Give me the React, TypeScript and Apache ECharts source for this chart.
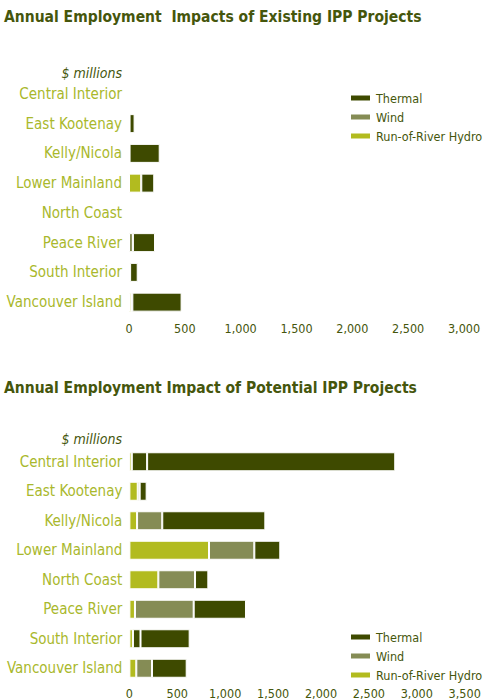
import React, { useEffect, useRef } from "react";
import * as echarts from "echarts";

const categories = [
  "Central Interior",
  "East Kootenay",
  "Kelly/Nicola",
  "Lower Mainland",
  "North Coast",
  "Peace River",
  "South Interior",
  "Vancouver Island",
];

// Existing IPP projects ($ millions)
const existingHydro = [3, 5, 5, 110, 0, 0, 10, 20];
const existingWind = [0, 0, 0, 0, 0, 35, 0, 10];
const existingThermal = [0, 45, 270, 116, 0, 198, 68, 441];

// Potential IPP projects ($ millions)
const potentialHydro = [25, 87, 80, 831, 302, 58, 37, 72];
const potentialWind = [160, 20, 263, 473, 383, 613, 79, 164];
const potentialThermal = [2590, 73, 1076, 271, 139, 546, 513, 362];
// rows whose middle segment is drawn in the thermal colour in the original
const potentialWindDark = [true, false, false, false, false, false, true, false];

const topTicks = { min: 0, max: 3000, interval: 500 };
const bottomTicks = { min: 0, max: 3500, interval: 500 };

const C_THERMAL = "#3e4a00";
const C_WIND = "#858c55";
const C_HYDRO = "#b2bb1f";
const C_LABEL = "#a9b82c";
const C_DARK = "#45560c";
const FONT = "'DejaVu Sans Condensed', 'Liberation Sans Narrow', sans-serif";

export default function App() {
  const ref = useRef<HTMLDivElement>(null);
  useEffect(() => {
    if (!ref.current) return;
    const chart = echarts.init(ref.current, null, { renderer: "svg" });
    const xAxisBase = (t: any, gridIndex: number, margin: number) => ({
      type: "value",
      gridIndex,
      min: t.min,
      max: t.max,
      interval: t.interval,
      axisLine: { show: false },
      axisTick: { show: false },
      splitLine: { show: false },
      axisLabel: {
        color: C_DARK,
        fontFamily: FONT,
        fontSize: 12.5,
        margin,
        formatter: (v: number) => v.toLocaleString("en-US"),
      },
    });
    const yAxisBase = (gridIndex: number) => ({
      type: "category",
      gridIndex,
      data: categories,
      inverse: true,
      axisLine: { show: false },
      axisTick: { show: false },
      splitLine: { show: false },
      axisLabel: {
        color: C_LABEL,
        fontFamily: FONT,
        fontSize: 15,
        margin: 7,
      },
    });
    const barBase = {
      type: "bar",
      barWidth: 19,
      itemStyle: { borderColor: "#ffffff", borderWidth: 1 },
    };
    const legendBase = {
      orient: "vertical",
      left: 344,
      itemWidth: 21,
      itemHeight: 7,
      itemGap: 3,
      icon: "rect",
      data: ["Thermal", "Wind", "Run-of-River Hydro"],
      textStyle: { color: C_DARK, fontFamily: FONT, fontSize: 12.5, lineHeight: 16 },
    };
    const option: any = {
      animation: false,
      grid: [
        { left: 129, width: 335, top: 79, height: 238, containLabel: false, outerBoundsMode: "none" },
        { left: 129.4, width: 335.3, top: 447, height: 236, containLabel: false, outerBoundsMode: "none" },
      ],
      xAxis: [xAxisBase(topTicks, 0, 5), xAxisBase(bottomTicks, 1, 4)],
      yAxis: [yAxisBase(0), yAxisBase(1)],
      legend: [
        { ...legendBase, top: 85 },
        { ...legendBase, top: 624 },
      ],
      series: [
        { ...barBase, name: "Run-of-River Hydro", stack: "a", xAxisIndex: 0, yAxisIndex: 0, color: C_HYDRO, data: existingHydro },
        { ...barBase, name: "Wind", stack: "a", xAxisIndex: 0, yAxisIndex: 0, color: C_WIND, data: existingWind },
        { ...barBase, name: "Thermal", stack: "a", xAxisIndex: 0, yAxisIndex: 0, color: C_THERMAL, data: existingThermal },
        { ...barBase, name: "Run-of-River Hydro", stack: "b", xAxisIndex: 1, yAxisIndex: 1, color: C_HYDRO, data: potentialHydro },
        {
          ...barBase,
          name: "Wind",
          stack: "b",
          xAxisIndex: 1,
          yAxisIndex: 1,
          color: C_WIND,
          data: potentialWind.map((v, i) =>
            potentialWindDark[i] ? { value: v, itemStyle: { color: C_THERMAL } } : v
          ),
        },
        { ...barBase, name: "Thermal", stack: "b", xAxisIndex: 1, yAxisIndex: 1, color: C_THERMAL, data: potentialThermal },
      ],
      graphic: [
        {
          type: "text",
          left: 4,
          top: 9,
          style: {
            text: "Annual Employment  Impacts of Existing IPP Projects",
            fill: C_DARK,
            font: `bold 15.5px ${FONT}`,
          },
        },
        {
          type: "text",
          left: 4,
          top: 380,
          style: {
            text: "Annual Employment Impact of Potential IPP Projects",
            fill: C_DARK,
            font: `bold 15.5px ${FONT}`,
          },
        },
        {
          type: "text",
          x: 122,
          y: 73,
          style: {
            text: "$ millions",
            fill: C_DARK,
            font: `italic 14px ${FONT}`,
            align: "right",
            verticalAlign: "middle",
          },
        },
        {
          type: "text",
          x: 122,
          y: 439,
          style: {
            text: "$ millions",
            fill: C_DARK,
            font: `italic 14px ${FONT}`,
            align: "right",
            verticalAlign: "middle",
          },
        },
      ],
    };
    chart.setOption(option);
    return () => chart.dispose();
  }, []);
  return (
    <div
      ref={ref}
      style={{ position: "fixed", left: 0, top: 0, width: 484, height: 700, background: "#fff" }}
    />
  );
}
